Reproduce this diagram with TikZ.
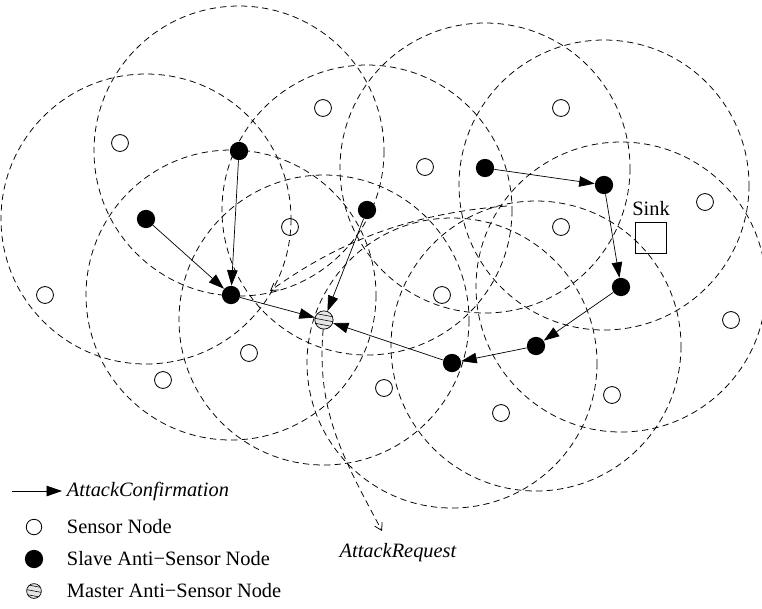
\documentclass[tikz,border=0pt]{standalone}
\usepackage{fontspec}
\setmainfont{Liberation Serif}
\usetikzlibrary{arrows.meta}

\begin{document}
\begin{tikzpicture}[
    x=0.025cm, y=-0.025cm,
    font=\fontsize{14.5}{16}\selectfont,
    rangecircle/.style={dash pattern=on 4.5pt off 3pt, line width=0.55pt},
    sensor/.style={circle, draw, line width=0.6pt, minimum size=12pt, inner sep=0pt},
    slave/.style={circle, fill=black, minimum size=13pt, inner sep=0pt},
    master/.style={circle, draw, line width=0.5pt, fill=gray!20, minimum size=13pt, inner sep=0pt,
        path picture={\foreach \o in {-3.5,0,3.5} \draw[line width=0.4pt] ([shift={(-8pt,\o pt+1.5pt)}]path picture bounding box.center) -- ++(16pt,-3pt);}},
    sinkbox/.style={rectangle, draw, line width=0.5pt, minimum size=22.5pt, inner sep=0pt},
    confirm/.style={-{Triangle[length=11pt,width=7.5pt]}, line width=0.5pt},
    request/.style={dash pattern=on 4.5pt off 3pt, -{Straight Barb[length=5pt,width=6pt]}, line width=0.55pt}
]
\useasboundingbox (0,0) rectangle (762,608);

\node[slave] (s1) at (239,151) {};
\node[slave] (s2) at (146,219) {};
\node[slave] (s3) at (231,295) {};
\node[slave] (s4) at (367,210) {};
\node[slave] (s5) at (485,168) {};
\node[slave] (s6) at (604,185) {};
\node[slave] (s7) at (621,287) {};
\node[slave] (s8) at (536,346) {};
\node[slave] (s9) at (452,363) {};
\node[master] (m) at (324,320) {};

\foreach \p [count=\i] in {(323,108),(561,108),(120,143),(425,167),(705,202),(290,227),(561,227),(45,295),
    (442,295),(731,320),(249,353),(163,380),(384,388),(612,395),(501,413)}
    \node[sensor] (n\i) at \p {};

\foreach \a in {s1,s2,s3,s4,s5,s6,s7,s8,s9,m}
    \draw[rangecircle] (\a) circle[radius=145];

\node[sinkbox] (sink) at (651,238) {};
\node[above=1pt] (sinklabel) at (sink.north) {Sink};

\draw[confirm] (s1) -- (s3);
\draw[confirm] (s2) -- (s3);
\draw[confirm] (s3) -- (m);
\draw[confirm] (s4) -- (m);
\draw[confirm] (s9) -- (m);
\draw[confirm] (s5) -- (s6);
\draw[confirm] (s6) -- (s7);
\draw[confirm] (s7) -- (s8);
\draw[confirm] (s8) -- (s9);

\coordinate (reqend) at (382,531);
\coordinate (reqleft) at (270,291);
\coordinate (reqfrom) at (507,206);
\draw[request] (m) to[out=-95,in=118] (reqend);
\draw[request] (reqfrom) .. controls (400,214) and (330,248) .. (reqleft);
\node[font=\fontsize{14.5}{16}\selectfont\itshape] (reqlabel) at (398,553) {AttackRequest};

\coordinate (lgstart) at (12,491);
\node[anchor=west] (lgconfirm) at (62,491) {\itshape AttackConfirmation};
\draw[confirm] (lgstart) -- (lgconfirm.west);
\node[sensor, minimum size=11pt] (lgsensor) at (34,527) {};
\node[anchor=west] (lgsensortext) at (62,527) {Sensor Node};
\node[slave] (lgslave) at (34,559) {};
\node[anchor=west] (lgslavetext) at (62,559) {Slave Anti−Sensor Node};
\node[master, minimum size=10.5pt] (lgmaster) at (34,591) {};
\node[anchor=west] (lgmastertext) at (62,591) {Master Anti−Sensor Node};
\end{tikzpicture}
\end{document}
